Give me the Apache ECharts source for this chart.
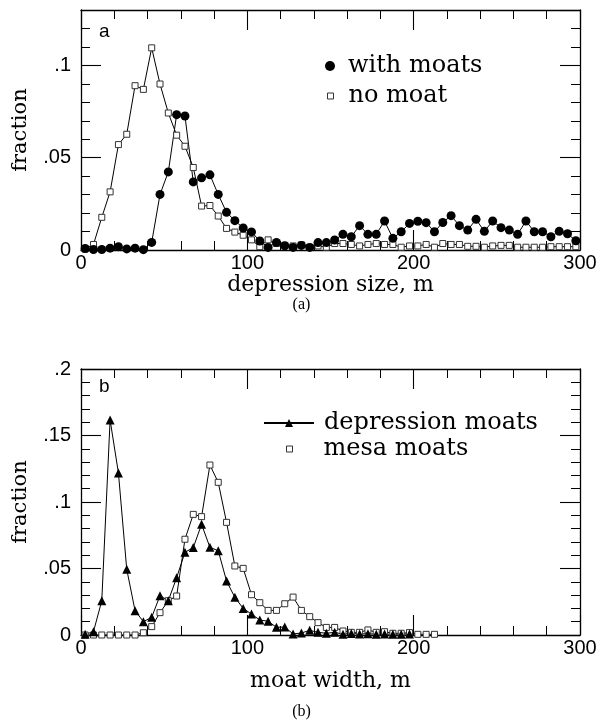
<!DOCTYPE html>
<html>
<head>
<meta charset="utf-8">
<script src="https://cdn.jsdelivr.net/npm/echarts@6/dist/echarts.min.js"></script>
<style>html,body{margin:0;padding:0;background:#fff}#c{width:603px;height:723px}</style>
</head>
<body>
<div id="c"></div>
<script>
// ---- data (panel a) ----
const binsA = [2.5,7.5,12.5,17.5,22.5,27.5,32.5,37.5,42.5,47.5,52.5,57.5,62.5,67.5,72.5,77.5,82.5,87.5,92.5,97.5,
  102.5,107.5,112.5,117.5,122.5,127.5,132.5,137.5,142.5,147.5,152.5,157.5,162.5,167.5,172.5,177.5,182.5,187.5,192.5,197.5,
  202.5,207.5,212.5,217.5,222.5,227.5,232.5,237.5,242.5,247.5,252.5,257.5,262.5,267.5,272.5,277.5,282.5,287.5,292.5,297.5];
const withMoats = [0.0008,0.0003,0.0003,0.0010,0.0018,0.0006,0.0010,0.0002,0.0041,0.0301,0.0423,0.0733,0.0726,0.0369,0.0391,0.0407,0.0301,0.0204,0.0159,0.0119,
  0.0098,0.0049,0.0014,0.0041,0.0023,0.0014,0.0025,0.0014,0.0040,0.0040,0.0054,0.0085,0.0072,0.0132,0.0085,0.0085,0.0157,0.0063,0.0099,0.0144,
  0.0156,0.0148,0.0099,0.0149,0.0186,0.0132,0.0108,0.0166,0.0101,0.0157,0.0121,0.0108,0.0085,0.0157,0.0099,0.0099,0.0072,0.0101,0.0088,0.0050];
const noMoat = [0.0005,0.0030,0.0177,0.0315,0.0571,0.0627,0.0890,0.0870,0.1095,0.0899,0.0742,0.0622,0.0562,0.0447,0.0238,0.0241,0.0184,0.0117,0.0097,0.0080,
  0.0055,0.0018,0.0055,0.0035,0.0025,0.0022,0.0028,0.0015,0.0022,0.0015,0.0035,0.0035,0.0030,0.0022,0.0030,0.0035,0.0030,0.0030,0.0015,0.0022,
  0.0022,0.0030,0.0015,0.0035,0.0030,0.0030,0.0020,0.0020,0.0015,0.0022,0.0025,0.0025,0.0015,0.0015,0.0015,0.0015,0.0018,0.0018,0.0018,0.0018];
// ---- data (panel b) ----
const binsB = [2.5,7.5,12.5,17.5,22.5,27.5,32.5,37.5,42.5,47.5,52.5,57.5,62.5,67.5,72.5,77.5,82.5,87.5,92.5,97.5,
  102.5,107.5,112.5,117.5,122.5,127.5,132.5,137.5,142.5,147.5,152.5,157.5,162.5,167.5,172.5,177.5,182.5,187.5,192.5,197.5,
  202.5,207.5,212.5];
const depressionMoats = [0.0005,0.0025,0.0258,0.1617,0.1218,0.0494,0.0183,0.0100,0.0133,0.0296,0.0258,0.0431,0.0622,0.0657,0.0832,0.0659,0.0634,0.0406,0.0283,0.0200,
  0.0157,0.0113,0.0103,0.0058,0.0060,0.0008,0.0015,0.0035,0.0020,0.0013,0.0020,0.0006,0.0012,0.0008,0.0010,0.0006,0.0008,0.0005,0.0006,0.0008,
  null,null,null];
const mesaMoats = [0,0,0,0,0,0,0,0.0017,0.0063,0.0168,0.0258,0.0293,0.0720,0.0907,0.0890,0.1278,0.1148,0.0847,0.0519,0.0501,
  0.0303,0.0243,0.0185,0.0185,0.0235,0.0285,0.0185,0.0138,0.0093,0.0057,0.0057,0.0030,0.0020,0.0020,0.0038,0.0020,0.0025,0.0013,0.0013,0.0018,
  0.0005,0.0005,0.0005];
// ---- ticks ----
const xTicks = [0,100,200,300];
const yTicksA = [0,0.05,0.1];
const yTicksB = [0,0.05,0.1,0.15,0.2];

const pairs = (xs, ys) => xs.map((x,i) => [x, ys[i]]).filter(p => p[1] !== null);
const fmtY = v => {
  if (Math.abs(v) < 1e-9) return '0';
  return String(+v.toFixed(3)).replace(/^0\./, '.');
};
const SERIF = 'DejaVu Serif';
const SANS = 'Liberation Sans';
const BLK = '#000';

function xAxes(grid, name, max, gap) {
  const base = {gridIndex: grid, type: 'value', min: 0, max: max, splitLine:{show:false}};
  return [
    Object.assign({}, base, {position:'bottom', interval: 100,
      axisLine:{show:true, onZero:false, lineStyle:{color:BLK, width:1.3}},
      axisTick:{show:true, inside:true, length:20, lineStyle:{color:BLK, width:1.1}},
      axisLabel:{show:true, margin:3, color:BLK, fontFamily:SANS, fontSize:20,
        formatter: v => xTicks.includes(v) ? String(v) : ''},
      name: name, nameLocation:'middle', nameGap:gap,
      nameTextStyle:{color:BLK, fontFamily:SERIF, fontSize:22}}),
    Object.assign({}, base, {position:'bottom', interval: 20,
      axisLine:{show:false, onZero:false}, axisLabel:{show:false},
      axisTick:{show:true, inside:true, length:9, lineStyle:{color:BLK, width:1}}}),
    Object.assign({}, base, {position:'top', interval: 100,
      axisLine:{show:true, onZero:false, lineStyle:{color:BLK, width:1.3}}, axisLabel:{show:false},
      axisTick:{show:true, inside:true, length:20, lineStyle:{color:BLK, width:1.1}}}),
    Object.assign({}, base, {position:'top', interval: 20,
      axisLine:{show:false, onZero:false}, axisLabel:{show:false},
      axisTick:{show:true, inside:true, length:9, lineStyle:{color:BLK, width:1}}})
  ];
}
function yAxes(grid, max, ticks) {
  const base = {gridIndex: grid, type: 'value', min: 0, max: max, splitLine:{show:false}};
  return [
    Object.assign({}, base, {position:'left', interval: 0.05,
      axisLine:{show:true, onZero:false, lineStyle:{color:BLK, width:1.3}},
      axisTick:{show:true, inside:true, length:20, lineStyle:{color:BLK, width:1.1}},
      axisLabel:{show:true, margin:10, color:BLK, fontFamily:SANS, fontSize:20, showMaxLabel: ticks.includes(max),
        formatter: v => ticks.some(t => Math.abs(t - v) < 1e-9) ? fmtY(v) : ''},
      name:'fraction', nameLocation:'middle', nameGap:50, nameRotate:90,
      nameTextStyle:{color:BLK, fontFamily:SERIF, fontSize:21}}),
    Object.assign({}, base, {position:'left', interval: 0.01,
      axisLine:{show:false, onZero:false}, axisLabel:{show:false},
      axisTick:{show:true, inside:true, length:9, lineStyle:{color:BLK, width:1}}}),
    Object.assign({}, base, {position:'right', interval: 0.05,
      axisLine:{show:true, onZero:false, lineStyle:{color:BLK, width:1.3}}, axisLabel:{show:false},
      axisTick:{show:true, inside:true, length:20, lineStyle:{color:BLK, width:1.1}}}),
    Object.assign({}, base, {position:'right', interval: 0.01,
      axisLine:{show:false, onZero:false}, axisLabel:{show:false},
      axisTick:{show:true, inside:true, length:9, lineStyle:{color:BLK, width:1}}})
  ];
}

// legend icons: invisible move-to points fix the icon box so the mark sits centred in it
const DOT_A = 'path://M0,0M26,10M8,5A5,5,0,1,1,18,5A5,5,0,1,1,8,5Z';
const SQ_A = 'path://M0,0M26,10M10,2H16V8H10Z';
const SQ_B = 'path://M0,0M50,10M23,2H29V8H23Z';
const legendBase = {orient:'horizontal', padding:0, selectedMode:false,
  textStyle:{color:BLK, fontFamily:SERIF, fontSize:24}};

const option = {
  animation: false,
  backgroundColor: '#fff',
  grid: [
    {left:81, top:10, width:499, height:240},
    {left:81, top:369, width:499, height:266}
  ],
  xAxis: [].concat(xAxes(0, 'depression size, m', 300, 21), xAxes(1, 'moat width, m', 300, 35)),
  yAxis: [].concat(yAxes(0, 0.13, yTicksA), yAxes(1, 0.2, yTicksB)),
  title: [
    {text:'a', left:99, top:22, padding:0, textStyle:{fontFamily:SANS, fontSize:19, fontWeight:'normal', color:BLK}},
    {text:'b', left:99, top:377, padding:0, textStyle:{fontFamily:SANS, fontSize:19, fontWeight:'normal', color:BLK}},
    {text:'(a)', left:'center', top:297, padding:0, textStyle:{fontFamily:'Liberation Serif', fontSize:16, fontWeight:'normal', color:BLK}},
    {text:'(b)', left:'center', top:704, padding:0, textStyle:{fontFamily:'Liberation Serif', fontSize:16, fontWeight:'normal', color:BLK}}
  ],
  legend: [
    Object.assign({}, legendBase, {left:317, top:54, itemWidth:26, itemHeight:10,
      data:[{name:'with moats', icon:DOT_A, itemStyle:{color:BLK, borderWidth:0}}]}),
    Object.assign({}, legendBase, {left:317, top:84, itemWidth:26, itemHeight:10,
      data:[{name:'no moat', icon:SQ_A, itemStyle:{color:'#fff', borderColor:'#333', borderWidth:1}}]}),
    Object.assign({}, legendBase, {left:263, top:411, itemWidth:50, itemHeight:10,
      textStyle:Object.assign({}, legendBase.textStyle, {padding:[0,0,0,5]}),
      data:[{name:'depression moats'}]}),
    Object.assign({}, legendBase, {left:263, top:437, itemWidth:50, itemHeight:10,
      textStyle:Object.assign({}, legendBase.textStyle, {padding:[0,0,0,5]}),
      data:[{name:'mesa moats', icon:SQ_B, itemStyle:{color:'#fff', borderColor:'#333', borderWidth:1}}]})
  ],
  series: [
    {name:'no moat', type:'line', xAxisIndex:0, yAxisIndex:0, data: pairs(binsA, noMoat),
      symbol:'rect', symbolSize:6, showAllSymbol:true,
      itemStyle:{color:'#fff', borderColor:'#333', borderWidth:1},
      lineStyle:{color:BLK, width:1}},
    {name:'with moats', type:'line', xAxisIndex:0, yAxisIndex:0, data: pairs(binsA, withMoats),
      symbol:'circle', symbolSize:9, showAllSymbol:true,
      itemStyle:{color:BLK}, lineStyle:{color:BLK, width:1}},
    {name:'mesa moats', type:'line', xAxisIndex:4, yAxisIndex:4, data: pairs(binsB, mesaMoats),
      symbol:'rect', symbolSize:6, showAllSymbol:true,
      itemStyle:{color:'#fff', borderColor:'#333', borderWidth:1},
      lineStyle:{color:BLK, width:1}},
    {name:'depression moats', type:'line', xAxisIndex:4, yAxisIndex:4, data: pairs(binsB, depressionMoats),
      symbol:'triangle', symbolSize:9, showAllSymbol:true,
      itemStyle:{color:BLK}, lineStyle:{color:BLK, width:1}}
  ]
};
const chart = echarts.init(document.getElementById('c'), null, {renderer:'canvas'});
chart.setOption(option);
</script>
</body>
</html>
